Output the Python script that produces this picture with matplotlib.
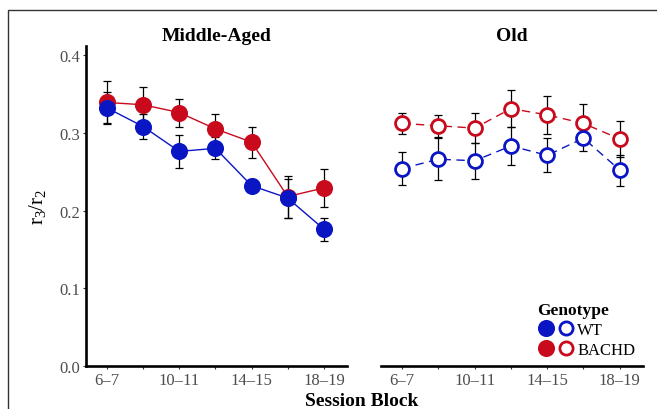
import matplotlib
matplotlib.use("Agg")
import matplotlib.pyplot as plt
from matplotlib.lines import Line2D
from matplotlib.legend_handler import HandlerTuple
from matplotlib.patches import Rectangle

plt.rcParams['font.family'] = ['Liberation Serif', 'DejaVu Serif']
plt.rcParams['mathtext.fontset'] = 'custom'
plt.rcParams['mathtext.rm'] = 'Liberation Serif'
plt.rcParams['mathtext.it'] = 'Liberation Serif:italic'

blocks = ['6–7', '8–9', '10–11', '12–13', '14–15', '16–17', '18–19']
shown_labels = ['6–7', '', '10–11', '', '14–15', '', '18–19']
panels = ['Middle-Aged', 'Old']
genotypes = ['WT', 'BACHD']

mid_wt = [0.332, 0.308, 0.276, 0.280, 0.232, 0.216, 0.176]
mid_wt_err = [0.020, 0.016, 0.021, 0.014, 0.008, 0.025, 0.015]
mid_bachd = [0.339, 0.336, 0.326, 0.305, 0.288, 0.218, 0.229]
mid_bachd_err = [0.028, 0.023, 0.018, 0.019, 0.020, 0.027, 0.024]

old_wt = [0.254, 0.266, 0.264, 0.283, 0.271, 0.293, 0.252]
old_wt_err = [0.021, 0.027, 0.023, 0.024, 0.022, 0.017, 0.020]
old_bachd = [0.312, 0.309, 0.306, 0.331, 0.323, 0.312, 0.292]
old_bachd_err = [0.013, 0.014, 0.019, 0.024, 0.024, 0.025, 0.023]

BLUE = '#0a16c4'
RED = '#c80a1c'
W, H = 657, 410

fig = plt.figure(figsize=(W / 100, H / 100), dpi=100)
fig.patch.set_facecolor('white')

# outer frame
fig.patches.append(Rectangle((8 / W, -0.05), 1.1, 1 - 11 / H + 0.05,
                             transform=fig.transFigure, fill=False,
                             edgecolor='#333333', linewidth=1.0))

def px_axes(x0, x1, y0, y1):
    return fig.add_axes([x0 / W, 1 - y1 / H, (x1 - x0) / W, (y1 - y0) / H])

ax1 = px_axes(86, 347, 47, 367)
ax2 = px_axes(381, 643, 47, 367)

x = list(range(len(blocks)))
data = {
    'Middle-Aged': [(mid_bachd, mid_bachd_err, RED), (mid_wt, mid_wt_err, BLUE)],
    'Old': [(old_bachd, old_bachd_err, RED), (old_wt, old_wt_err, BLUE)],
}

for ax, panel in zip([ax1, ax2], panels):
    old = panel == 'Old'
    for i, (vals, errs, col) in enumerate(data[panel]):
        ax.plot(x, vals, color=col, lw=1.0,
                ls=(0, (6, 4)) if old else '-', zorder=1)
        ax.errorbar(x, vals, yerr=errs, fmt='none', ecolor='black',
                    elinewidth=0.9, capsize=2.7, capthick=0.9, zorder=2)
        if old:
            ax.plot(x, vals, 'o', ms=10, mfc='white', mec=col, mew=2.0,
                    ls='none', zorder=3 + i)
        else:
            ax.plot(x, vals, 'o', ms=12.3, mfc=col, mec=col, mew=0,
                    ls='none', zorder=3 + i)
    ax.set_xlim(-0.58, 6.64)
    ax.set_ylim(0, 0.4116)
    ax.set_xticks(x)
    ax.set_xticklabels(shown_labels)
    ax.set_facecolor('white')
    for s in ['top', 'right']:
        ax.spines[s].set_visible(False)
    ax.spines['bottom'].set_linewidth(1.9)
    ax.spines['left'].set_linewidth(1.9)
    ax.tick_params(axis='both', length=2.5, width=0.8, color='#333333',
                   labelsize=12, labelcolor='#4d4d4d', pad=2)
    ax.set_title(panel, fontsize=14, fontweight='bold', pad=4)

ax1.set_yticks([0.0, 0.1, 0.2, 0.3, 0.4])
ax1.set_yticklabels(['0.0', '0.1', '0.2', '0.3', '0.4'])
ax2.spines['left'].set_visible(False)
ax2.set_yticks([])

fig.text(37 / W, 1 - 207 / H, r'$\mathrm{r}_3/\mathrm{r}_2$', rotation=90,
         ha='center', va='center', fontsize=15, color='black')
fig.text(362 / W, 1 - 402 / H, 'Session Block', ha='center', va='center',
         fontsize=14, fontweight='bold')

handles = [
    (Line2D([], [], marker='o', ls='none', ms=12.3, mfc=BLUE, mec=BLUE, mew=0),
     Line2D([], [], marker='o', ls='none', ms=9.5, mfc='white', mec=BLUE, mew=2.0)),
    (Line2D([], [], marker='o', ls='none', ms=12.3, mfc=RED, mec=RED, mew=0),
     Line2D([], [], marker='o', ls='none', ms=9.5, mfc='white', mec=RED, mew=2.0)),
]
leg = ax2.legend(handles, genotypes, handler_map={tuple: HandlerTuple(ndivide=None, pad=0.06)},
                 title='Genotype', loc='lower right', bbox_to_anchor=(0.97, 0.025),
                 frameon=False, fontsize=12, handlelength=2.25, handletextpad=0.15,
                 labelspacing=0.25, borderpad=0, borderaxespad=0,
                 title_fontproperties={'weight': 'bold', 'size': 12.5},
                 alignment='left')

fig.savefig('out.png', dpi=100)
